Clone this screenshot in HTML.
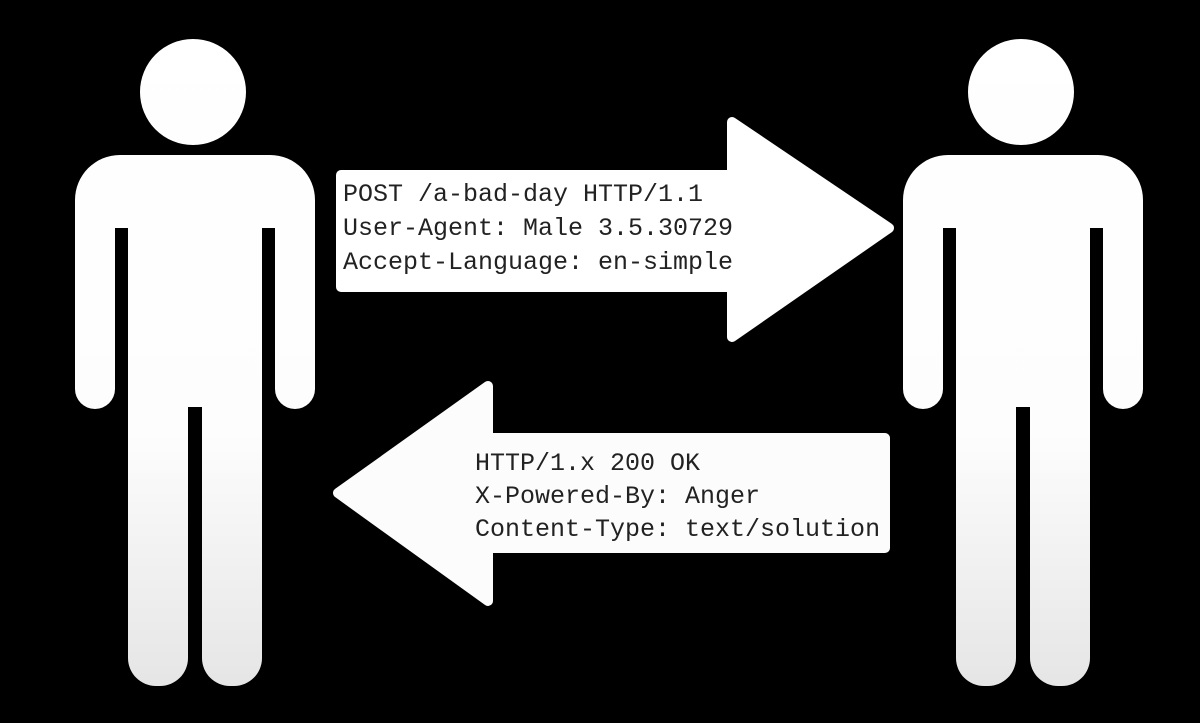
<!DOCTYPE html>
<html><head><meta charset="utf-8"><style>
html,body{margin:0;padding:0;background:#000;}
svg{display:block}
text{font-family:"Liberation Mono",monospace;font-size:25px;fill:#222;}
</style></head><body>
<svg width="1200" height="723" viewBox="0 0 1200 723">
<defs>
<linearGradient id="g" x1="0" y1="0" x2="0" y2="723" gradientUnits="userSpaceOnUse">
<stop offset="0" stop-color="#fff"/><stop offset="0.6" stop-color="#fdfdfd"/><stop offset="1" stop-color="#e2e2e2"/>
</linearGradient>
<g id="p">
<circle cx="193" cy="92" r="53" fill="url(#g)"/>
<rect x="75" y="155" width="240" height="200" rx="45" fill="url(#g)"/>
<rect x="75" y="220" width="240" height="160" fill="url(#g)"/>
<rect x="75" y="300" width="40" height="109" rx="20" fill="url(#g)"/>
<rect x="275" y="300" width="40" height="109" rx="20" fill="url(#g)"/>
<rect x="128" y="300" width="134" height="120" fill="url(#g)"/>
<rect x="128" y="380" width="60" height="306" rx="28" fill="url(#g)"/>
<rect x="202" y="380" width="60" height="306" rx="28" fill="url(#g)"/>
<rect x="115" y="228" width="13" height="200" fill="#000"/>
<rect x="262" y="228" width="13" height="200" fill="#000"/>
<rect x="188" y="407" width="14" height="60" fill="#000"/>
</g>
</defs>
<use href="#p"/>
<use href="#p" transform="translate(828,0)"/>
<polygon points="341,175 732,175 732,122 889,228 732,337 732,287 341,287" fill="#fff" stroke="#fff" stroke-width="10" stroke-linejoin="round"/>
<polygon points="885,438 488,438 488,386 338,493 488,601 488,548 885,548" fill="#fcfcfc" stroke="#fcfcfc" stroke-width="10" stroke-linejoin="round"/>
<text x="343" y="201">POST /a-bad-day HTTP/1.1</text>
<text x="343" y="235">User-Agent: Male 3.5.30729</text>
<text x="343" y="269">Accept-Language: en-simple</text>
<text x="475" y="470">HTTP/1.x 200 OK</text>
<text x="475" y="503">X-Powered-By: Anger</text>
<text x="475" y="536">Content-Type: text/solution</text>
</svg>
</body></html>
